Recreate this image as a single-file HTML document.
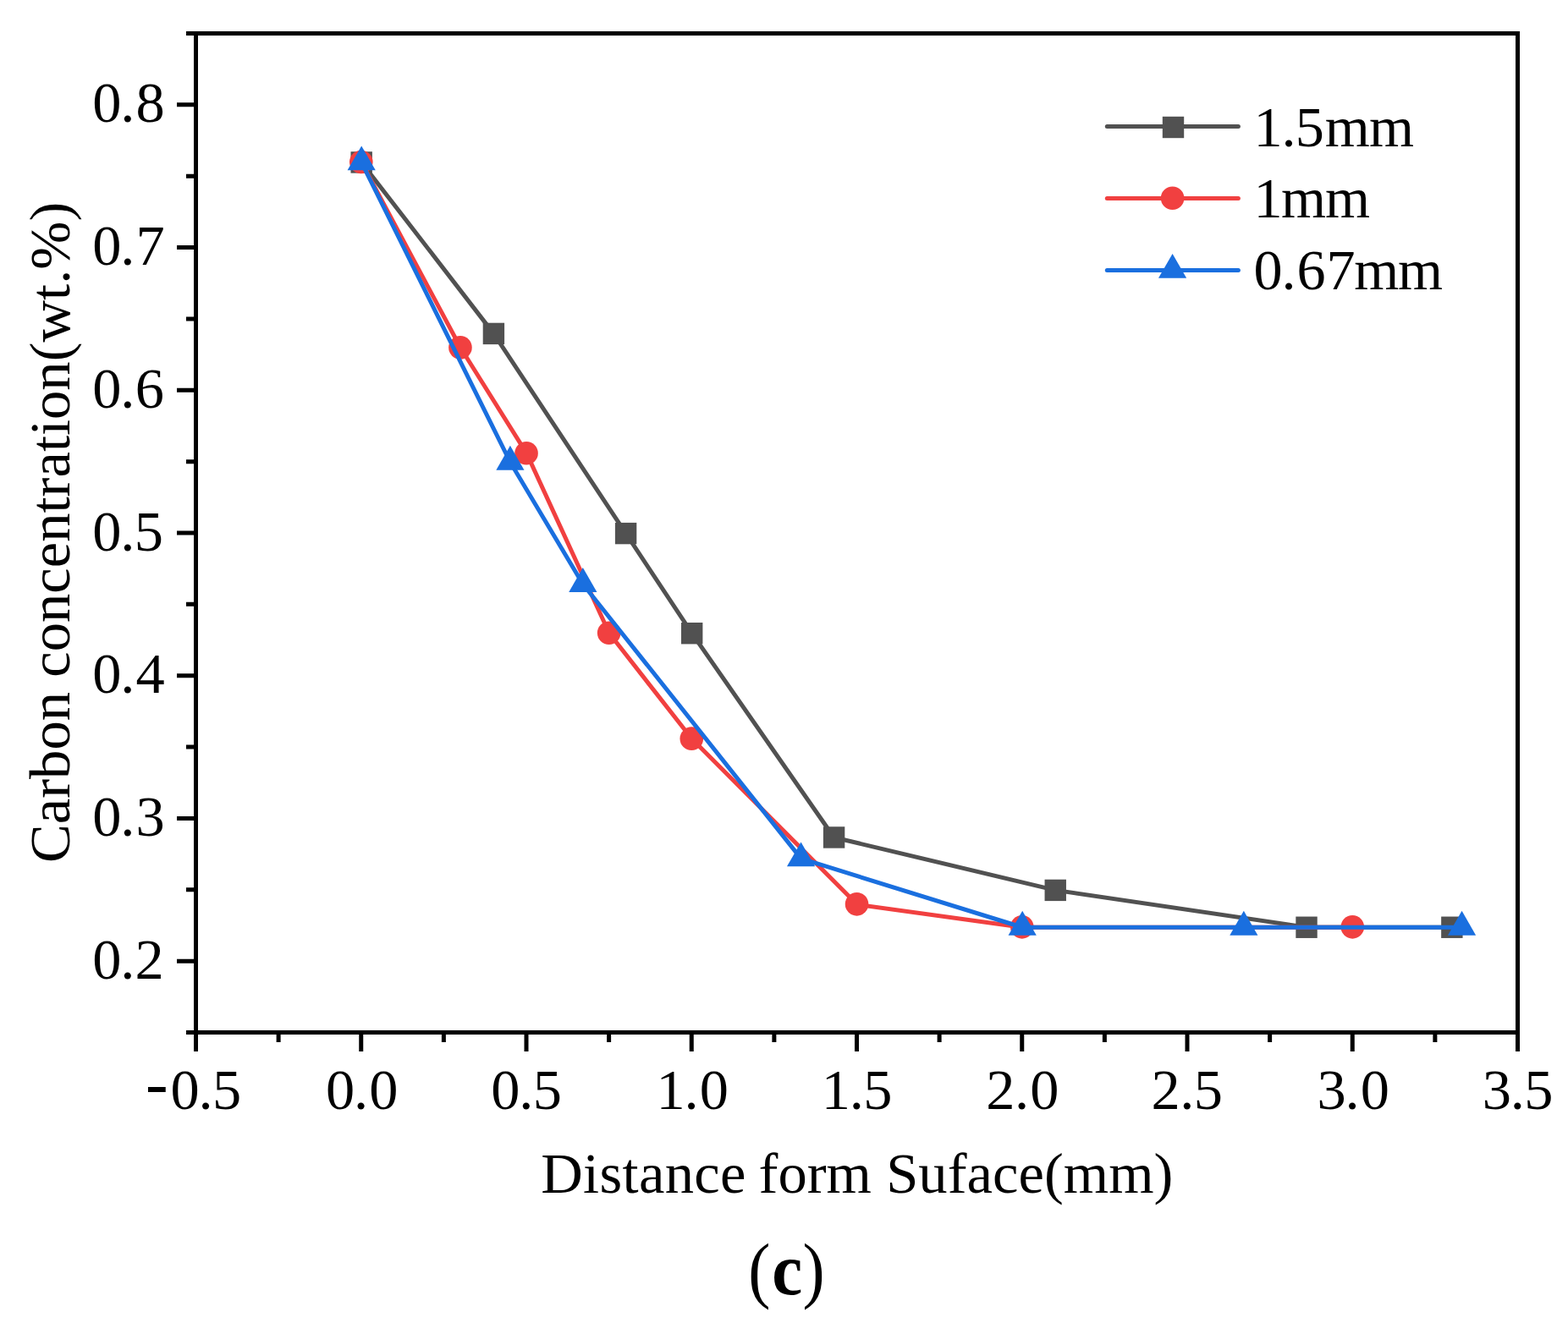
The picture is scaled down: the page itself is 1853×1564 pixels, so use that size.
<!DOCTYPE html>
<html lang="en">
<head>
<meta charset="utf-8">
<title>Carbon concentration vs distance from surface (c)</title>
<style>
html,body{margin:0;padding:0;background:#fff;}
body{width:1853px;height:1564px;}
svg{display:block;}
text{font-family:"Liberation Serif","Times New Roman",Times,serif;fill:#000;font-kerning:none;white-space:pre;}
.ax{stroke:#000;stroke-width:5;fill:none;stroke-linecap:butt;}
</style>
</head>
<body>
<svg width="1853" height="1564" viewBox="0 0 1853 1564" role="img" aria-label="Carbon concentration (wt.%) versus distance from surface (mm) for 1.5mm, 1mm and 0.67mm">
<rect x="0" y="0" width="1853" height="1564" fill="#ffffff"/>
<g id="series">
<g transform="translate(0.45,0.6)">
<polyline points="426.75,191.34 582.95,393.8 739.15,630 817.25,748.1 985.16,989.36 1246.8,1051.79 1543.58,1095.65 1715.4,1095.65" fill="none" stroke="#515151" stroke-width="5.0" stroke-linejoin="round" stroke-linecap="round"/>
<rect x="414.05" y="178.64" width="25.4" height="25.4" fill="#515151"/>
<rect x="570.25" y="381.1" width="25.4" height="25.4" fill="#515151"/>
<rect x="726.45" y="617.3" width="25.4" height="25.4" fill="#515151"/>
<rect x="804.55" y="735.4" width="25.4" height="25.4" fill="#515151"/>
<rect x="972.46" y="976.66" width="25.4" height="25.4" fill="#515151"/>
<rect x="1234.1" y="1039.09" width="25.4" height="25.4" fill="#515151"/>
<rect x="1530.88" y="1082.95" width="25.4" height="25.4" fill="#515151"/>
<rect x="1702.7" y="1082.95" width="25.4" height="25.4" fill="#515151"/>
</g>
<g transform="translate(0.45,0.6)">
<polyline points="426.75,191.34 543.9,410.67 622,535.52 719.62,748.1 817.25,872.95 1012.5,1068.66 1207.75,1095.65 1598.25,1095.65" fill="none" stroke="#F14040" stroke-width="5.0" stroke-linejoin="round" stroke-linecap="round"/>
<circle cx="426.35" cy="190.94" r="13.8" fill="#F14040"/>
<circle cx="543.5" cy="410.27" r="13.8" fill="#F14040"/>
<circle cx="621.6" cy="535.12" r="13.8" fill="#F14040"/>
<circle cx="719.23" cy="747.7" r="13.8" fill="#F14040"/>
<circle cx="816.85" cy="872.55" r="13.8" fill="#F14040"/>
<circle cx="1012.1" cy="1068.26" r="13.8" fill="#F14040"/>
<circle cx="1207.35" cy="1095.25" r="13.8" fill="#F14040"/>
<circle cx="1597.85" cy="1095.25" r="13.8" fill="#F14040"/>
</g>
<g transform="translate(0.45,0.6)">
<polyline points="426.75,191.34 602.47,545.64 688.38,689.89 946.12,1014.33 1207.75,1095.65 1469.38,1095.65 1727.12,1095.65" fill="none" stroke="#1A6FDF" stroke-width="5.0" stroke-linejoin="round" stroke-linecap="round"/>
<polygon points="426.75,171.84 443.35,200.74 410.15,200.74" fill="#1A6FDF"/>
<polygon points="602.47,526.14 619.07,555.04 585.87,555.04" fill="#1A6FDF"/>
<polygon points="688.38,670.39 704.99,699.29 671.78,699.29" fill="#1A6FDF"/>
<polygon points="946.12,994.83 962.72,1023.73 929.51,1023.73" fill="#1A6FDF"/>
<polygon points="1207.75,1076.15 1224.35,1105.05 1191.15,1105.05" fill="#1A6FDF"/>
<polygon points="1469.38,1076.15 1485.98,1105.05 1452.79,1105.05" fill="#1A6FDF"/>
<polygon points="1727.12,1076.15 1743.71,1105.05 1710.52,1105.05" fill="#1A6FDF"/>
</g>
</g>
<g id="axes" class="ax">
<rect x="231.5" y="39.5" width="1562.0" height="1181.0"/>
<path d="M231.5,1223 v20 M329.12,1223 v9 M426.75,1223 v20 M524.38,1223 v9 M622,1223 v20 M719.62,1223 v9 M817.25,1223 v20 M914.88,1223 v9 M1012.5,1223 v20 M1110.12,1223 v9 M1207.75,1223 v20 M1305.38,1223 v9 M1403,1223 v20 M1500.62,1223 v9 M1598.25,1223 v20 M1695.88,1223 v9 M1793.5,1223 v20 M229,1220.5 h-9 M229,1136.14 h-20 M229,1051.79 h-9 M229,967.43 h-20 M229,883.07 h-9 M229,798.71 h-20 M229,714.36 h-9 M229,630 h-20 M229,545.64 h-9 M229,461.29 h-20 M229,376.93 h-9 M229,292.57 h-20 M229,208.21 h-9 M229,123.86 h-20 M229,39.5 h-9"/>
</g>
<g id="xlabels">
<text y="1310.9" style="font-size:68.4px"><tspan x="171.93" dy="-3.75" style="font-size:80px">-</tspan><tspan x="201.55 234.55 250.9" dy="3.75">0.5</tspan></text>
<text x="385.05 418.05 436.15" y="1310.9" style="font-size:68.4px">0.0</text>
<text x="580.3 613.3 629.65" y="1310.9" style="font-size:68.4px">0.5</text>
<text x="775.55 808.55 826.65" y="1310.9" style="font-size:68.4px">1.0</text>
<text x="970.8 1003.8 1020.15" y="1310.9" style="font-size:68.4px">1.5</text>
<text x="1165.25 1199.05 1217.15" y="1310.9" style="font-size:68.4px">2.0</text>
<text x="1360.5 1394.3 1410.65" y="1310.9" style="font-size:68.4px">2.5</text>
<text x="1556.55 1589.55 1607.65" y="1310.9" style="font-size:68.4px">3.0</text>
<text x="1751.8 1784.8 1801.15" y="1310.9" style="font-size:68.4px">3.5</text>
</g>
<g id="ylabels">
<text x="109.3 142.3 159.6" y="1156.74" style="font-size:68.4px">0.2</text>
<text x="109.3 142.3 160.4" y="988.03" style="font-size:68.4px">0.3</text>
<text x="109.3 142.3 160.4" y="819.31" style="font-size:68.4px">0.4</text>
<text x="109.3 142.3 158.65" y="650.6" style="font-size:68.4px">0.5</text>
<text x="109.3 142.3 159.8" y="481.89" style="font-size:68.4px">0.6</text>
<text x="109.3 142.3 160.4" y="313.17" style="font-size:68.4px">0.7</text>
<text x="109.3 142.3 160.4" y="144.46" style="font-size:68.4px">0.8</text>
</g>
<g id="titles">
<text x="639.22 689.11 708.49 735.51 754.9 785.68 820.31 851.09 879.38 896.55 919.4 953.73 976.59 1029.98 1047.14 1085.32 1119.64 1142.5 1172.97 1203.44 1233.91 1256.77 1310.16 1363.56" y="1409.8" style="font-size:68.6px">Distance form Suface(mm)</text>
<text transform="translate(82.3,1020.01) rotate(-90)" style="font-size:68.6px;letter-spacing:0.017px;">Carbon concentration(wt.%)</text>
<text y="1529.7" style="font-size:86.5px"><tspan x="884.35" textLength="26.2" lengthAdjust="spacingAndGlyphs">(</tspan><tspan x="912.17" textLength="36" lengthAdjust="spacingAndGlyphs" style="font-weight:bold">c</tspan><tspan x="948.5" textLength="26.1" lengthAdjust="spacingAndGlyphs">)</tspan></text>
</g>
<g id="legend">
<line x1="1308.3" y1="149.5" x2="1463.4" y2="149.5" stroke="#515151" stroke-width="5" stroke-linecap="round"/>
<rect x="1373.8" y="137.8" width="25.4" height="25.4" fill="#515151"/>
<text x="1481.6 1514.4 1530.8 1565.8 1617.9" y="172.5" style="font-size:68.2px">1.5mm</text>
<line x1="1308.3" y1="234.4" x2="1463.4" y2="234.4" stroke="#F14040" stroke-width="5" stroke-linecap="round"/>
<circle cx="1385.6" cy="234.2" r="13.8" fill="#F14040"/>
<text x="1481.6 1513.9 1566" y="257.4" style="font-size:68.2px">1mm</text>
<line x1="1308.3" y1="319.4" x2="1463.4" y2="319.4" stroke="#1A6FDF" stroke-width="5" stroke-linecap="round"/>
<polygon points="1385.6,299.9 1402.2,328.8 1369,328.8" fill="#1A6FDF"/>
<text x="1481.4 1514.45 1532.5 1567.5 1600.15 1652" y="342.4" style="font-size:68.2px">0.67mm</text>
</g>
</svg>
</body>
</html>
